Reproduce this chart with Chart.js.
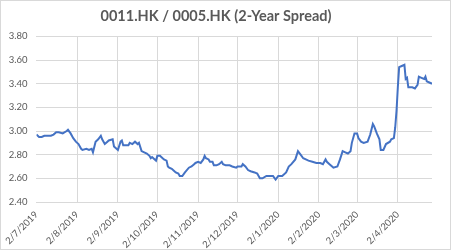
<!DOCTYPE html>
<html><head><meta charset="utf-8">
<script src="https://cdn.jsdelivr.net/npm/chart.js@4.4.1/dist/chart.umd.min.js"></script>
<style>html,body{margin:0;padding:0;background:#fff}</style>
</head><body>
<canvas id="c" width="451" height="250"></canvas>
<script>
const chartTitle = '0011.HK / 0005.HK (2-Year Spread)';
const dates = [
'2019-07-02','2019-07-04','2019-07-06','2019-07-08','2019-07-10','2019-07-13','2019-07-15','2019-07-17','2019-07-19','2019-07-22',
'2019-07-25','2019-07-26','2019-07-28','2019-07-30','2019-08-01','2019-08-03','2019-08-05','2019-08-06','2019-08-09','2019-08-11',
'2019-08-13','2019-08-14','2019-08-16','2019-08-18','2019-08-20','2019-08-21','2019-08-23','2019-08-25','2019-08-26','2019-08-29',
'2019-08-30','2019-09-02','2019-09-04','2019-09-05','2019-09-06','2019-09-08','2019-09-10','2019-09-11','2019-09-13','2019-09-15',
'2019-09-17','2019-09-18','2019-09-20','2019-09-22','2019-09-24','2019-09-26','2019-09-27','2019-09-28','2019-09-30','2019-10-01',
'2019-10-02','2019-10-04','2019-10-05','2019-10-07','2019-10-09','2019-10-10','2019-10-11','2019-10-13','2019-10-15','2019-10-16',
'2019-10-18','2019-10-19','2019-10-21','2019-10-23','2019-10-26','2019-10-28','2019-10-30','2019-10-31','2019-11-02','2019-11-04',
'2019-11-06','2019-11-07','2019-11-08','2019-11-10','2019-11-11','2019-11-13','2019-11-14','2019-11-16','2019-11-18','2019-11-20',
'2019-11-21','2019-11-23','2019-11-26','2019-11-28','2019-12-01','2019-12-02','2019-12-05','2019-12-06','2019-12-08','2019-12-10',
'2019-12-12','2019-12-15','2019-12-17','2019-12-19','2019-12-21','2019-12-24','2019-12-26','2019-12-29','2019-12-31','2020-01-02',
'2020-01-05','2020-01-08','2020-01-10','2020-01-12','2020-01-15','2020-01-17','2020-01-19','2020-01-21','2020-01-23','2020-01-25',
'2020-01-28','2020-01-31','2020-02-03','2020-02-05','2020-02-07','2020-02-08','2020-02-10','2020-02-12','2020-02-13','2020-02-16',
'2020-02-18','2020-02-20','2020-02-22','2020-02-24','2020-02-26','2020-02-27','2020-02-29','2020-03-02','2020-03-03','2020-03-05',
'2020-03-07','2020-03-10','2020-03-12','2020-03-14','2020-03-15','2020-03-17','2020-03-19','2020-03-20','2020-03-22','2020-03-24',
'2020-03-27','2020-03-28','2020-03-30','2020-03-31','2020-04-01','2020-04-02','2020-04-03','2020-04-05','2020-04-07','2020-04-08',
'2020-04-09','2020-04-10','2020-04-13','2020-04-15','2020-04-17','2020-04-18','2020-04-20','2020-04-22','2020-04-23','2020-04-24',
'2020-04-26','2020-04-28'
];
const spread = [
2.97,2.95,2.95,2.96,2.96,2.96,2.97,2.99,2.99,2.98,
3.00,3.01,2.98,2.94,2.91,2.89,2.85,2.84,2.85,2.84,
2.85,2.82,2.91,2.93,2.96,2.93,2.89,2.91,2.92,2.93,
2.87,2.84,2.91,2.92,2.88,2.88,2.88,2.90,2.89,2.91,
2.89,2.90,2.83,2.82,2.81,2.79,2.77,2.78,2.76,2.75,
2.79,2.79,2.78,2.76,2.75,2.70,2.69,2.68,2.66,2.65,
2.64,2.62,2.62,2.65,2.69,2.70,2.72,2.73,2.74,2.73,
2.76,2.79,2.77,2.76,2.74,2.74,2.71,2.71,2.72,2.74,
2.72,2.71,2.71,2.70,2.69,2.70,2.70,2.72,2.70,2.67,
2.66,2.65,2.64,2.60,2.60,2.62,2.62,2.62,2.59,2.62,
2.62,2.65,2.70,2.72,2.76,2.83,2.80,2.77,2.76,2.75,
2.74,2.73,2.73,2.72,2.76,2.74,2.72,2.70,2.69,2.70,
2.76,2.83,2.82,2.81,2.83,2.90,2.98,2.98,2.94,2.91,
2.90,2.91,2.97,3.06,3.04,2.98,2.93,2.84,2.84,2.89,
2.91,2.93,2.94,3.03,3.17,3.37,3.54,3.55,3.56,3.44,
3.45,3.37,3.37,3.36,3.39,3.46,3.45,3.44,3.46,3.42,
3.41,3.40
];
const tickDates = ['2019-07-02','2019-08-02','2019-09-02','2019-10-02','2019-11-02','2019-12-02','2020-01-02','2020-02-02','2020-03-02','2020-04-02'];
const tickLabels = ['2/7/2019','2/8/2019','2/9/2019','2/10/2019','2/11/2019','2/12/2019','2/1/2020','2/2/2020','2/3/2020','2/4/2020'];
const yTicks = [2.40, 2.60, 2.80, 3.00, 3.20, 3.40, 3.60, 3.80];

function dayNum(s) {
  const p = s.split('-').map(Number);
  return Date.UTC(p[0], p[1] - 1, p[2]) / 86400000;
}
const origin = dayNum(dates[0]);
const points = dates.map((d, i) => ({ x: dayNum(d) - origin, y: spread[i] }));
const tickVals = tickDates.map(d => dayNum(d) - origin);
const labelFor = {};
tickVals.forEach((v, i) => { labelFor[v] = tickLabels[i]; });

const frame = {
  id: 'frame',
  beforeDraw(chart) {
    const c = chart.ctx;
    c.save();
    c.fillStyle = '#fff';
    c.fillRect(0, 0, chart.width, chart.height);
    c.strokeStyle = '#d9d9d9';
    c.lineWidth = 1;
    c.strokeRect(0.5, 0.5, chart.width - 1, chart.height - 1);
    c.restore();
  }
};

const gridCol = '#d9d9d9';
const txtCol = '#595959';

new Chart(document.getElementById('c'), {
  type: 'line',
  data: {
    datasets: [{
      data: points,
      borderColor: '#4472C4',
      borderWidth: 2,
      pointRadius: 0,
      tension: 0,
      fill: false
    }]
  },
  options: {
    responsive: false,
    animation: false,
    events: [],
    layout: { padding: { left: 0, right: 19, top: 0, bottom: 0 } },
    plugins: {
      legend: { display: false },
      tooltip: { enabled: false },
      title: {
        display: true,
        text: chartTitle,
        color: txtCol,
        font: { family: 'Lato', size: 14.5, weight: 'bold' },
        padding: { top: 8, bottom: 11 }
      }
    },
    scales: {
      x: {
        type: 'linear',
        min: 0,
        max: points[points.length - 1].x,
        afterBuildTicks(scale) { scale.ticks = tickVals.map(v => ({ value: v })); },
        afterFit(scale) { scale.height = 48; },
        ticks: {
          autoSkip: false,
          minRotation: 45,
          maxRotation: 45,
          padding: 7,
          color: txtCol,
          font: { family: 'Lato', size: 9.5 },
          callback: (v) => labelFor[v] !== undefined ? labelFor[v] : ''
        },
        grid: {
          color: (ctx) => (ctx.tick && ctx.tick.value === 0) ? 'rgba(0,0,0,0)' : gridCol,
          lineWidth: 1,
          drawTicks: false
        },
        border: { display: false }
      },
      y: {
        min: 2.4,
        max: 3.8,
        afterBuildTicks(scale) { scale.ticks = yTicks.map(v => ({ value: v })); },
        afterFit(scale) { scale.width = 35; },
        ticks: {
          padding: 9,
          color: txtCol,
          font: { family: 'Lato', size: 9.5 },
          callback: (v) => Number(v).toFixed(2)
        },
        grid: { color: gridCol, lineWidth: 1, drawTicks: false },
        border: { display: false }
      }
    }
  },
  plugins: [frame]
});
</script>
</body></html>
